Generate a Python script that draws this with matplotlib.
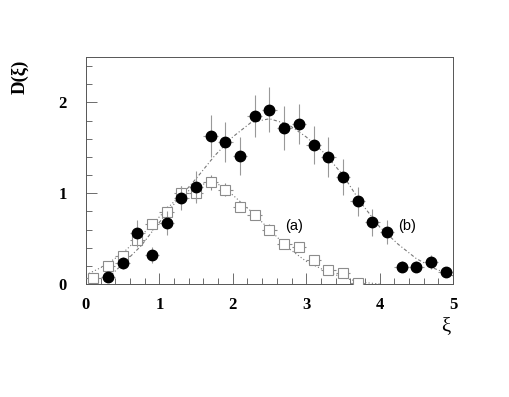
import matplotlib
matplotlib.use("Agg")
import matplotlib.pyplot as plt
from matplotlib.ticker import MultipleLocator

# (b) filled circles
bx = [0.3, 0.5, 0.7, 0.9, 1.1, 1.3, 1.5, 1.7, 1.9, 2.1, 2.3, 2.5,
      2.7, 2.9, 3.1, 3.3, 3.5, 3.7, 3.9, 4.1, 4.3, 4.5, 4.7, 4.9]
by = [0.08, 0.23, 0.56, 0.32, 0.67, 0.95, 1.07, 1.63, 1.56, 1.41, 1.85, 1.92,
      1.72, 1.76, 1.53, 1.40, 1.18, 0.91, 0.68, 0.57, 0.19, 0.19, 0.245, 0.13]
be = [0.04, 0.07, 0.15, 0.09, 0.13, 0.13, 0.18, 0.23, 0.22, 0.21, 0.23, 0.25,
      0.24, 0.22, 0.21, 0.22, 0.20, 0.16, 0.15, 0.13, 0.06, 0.06, 0.08, 0.05]

# (a) open squares
ax_ = [0.1, 0.3, 0.5, 0.7, 0.9, 1.1, 1.3, 1.5, 1.7, 1.9, 2.1, 2.3,
       2.5, 2.7, 2.9, 3.1, 3.3, 3.5, 3.7]
ay = [0.07, 0.20, 0.31, 0.49, 0.66, 0.79, 1.00, 1.00, 1.12, 1.04, 0.85, 0.76,
      0.60, 0.44, 0.41, 0.26, 0.15, 0.12, 0.01]
ae = [0.03, 0.04, 0.05, 0.06, 0.06, 0.07, 0.08, 0.08, 0.08, 0.07, 0.06, 0.06,
      0.06, 0.05, 0.05, 0.04, 0.04, 0.03, 0.02]

# fit curves
fa_x = [0.0, 0.25, 0.5, 0.75, 1.0, 1.25, 1.5, 1.75, 2.0, 2.25, 2.5, 2.75,
        3.0, 3.25, 3.5, 3.75, 4.0]
fa_y = [0.10, 0.20, 0.34, 0.53, 0.74, 0.95, 1.08, 1.13, 0.98, 0.80, 0.60, 0.40,
        0.25, 0.15, 0.07, 0.02, 0.0]
fb_x = [0.25, 0.5, 0.75, 1.0, 1.25, 1.5, 1.75, 2.0, 2.25, 2.5, 2.75, 3.0,
        3.25, 3.5, 3.75, 4.0, 4.25, 4.5, 4.75, 5.0]
fb_y = [0.03, 0.22, 0.42, 0.68, 0.93, 1.16, 1.41, 1.62, 1.78, 1.82, 1.76, 1.62,
        1.44, 1.20, 0.89, 0.63, 0.44, 0.28, 0.17, 0.09]

xticks = [0, 1, 2, 3, 4, 5]
yticks = [0, 1, 2]

fig = plt.figure(figsize=(5.10, 3.97), dpi=100)
ax = fig.add_axes([0.1686, 0.2846, 0.7196, 0.5718])

grey = "#8c8c8c"
ax.plot(fa_x, fa_y, linestyle=(0, (1, 2)), color="#777777", lw=0.8, zorder=2)
ax.plot(fb_x, fb_y, linestyle=(0, (3, 2, 1, 2)), color="#777777", lw=0.8, zorder=2)

ax.errorbar(ax_, ay, yerr=ae, xerr=0.1, fmt="s", ms=6.5, mfc="white",
            mec=grey, mew=0.8, ecolor=grey, elinewidth=0.8, capsize=0,
            zorder=3)
ax.errorbar(bx, by, yerr=be, xerr=0.1, fmt="o", ms=7.5, mfc="black",
            mec="black", ecolor="#999999", elinewidth=0.8, capsize=0,
            zorder=4)

ax.set_xlim(0, 5)
ax.set_ylim(0, 2.5)
ax.set_xticks(xticks)
ax.set_yticks(yticks)
ax.xaxis.set_minor_locator(MultipleLocator(0.2))
ax.yaxis.set_minor_locator(MultipleLocator(0.2))
ax.tick_params(which="both", direction="in", top=False, right=False,
               color="#555555", width=0.6)
ax.tick_params(which="major", length=8)
ax.tick_params(which="minor", length=4)
ax.tick_params(axis="x", which="major", pad=9)
ax.tick_params(axis="y", which="major", pad=14)
for lab in ax.get_xticklabels() + ax.get_yticklabels():
    lab.set_fontfamily("Liberation Serif")
    lab.set_fontweight("bold")
    lab.set_fontsize(12)
for sp in ax.spines.values():
    sp.set_color("#555555")
    sp.set_linewidth(0.7)

ax.text(2.83, 0.64, "(a)", family="Liberation Sans", fontsize=10.5,
        ha="center", va="center")
ax.text(4.37, 0.64, "(b)", family="Liberation Sans", fontsize=10.5,
        ha="center", va="center")

fig.text(20 / 510, 1 - 77 / 397, "D(ξ)", rotation=90, family="Liberation Serif",
         fontweight="bold", fontsize=13.5, ha="center", va="center")
fig.text(446 / 510, 1 - 327 / 397, "ξ", family="Liberation Serif",
         fontsize=15, ha="center", va="center")

fig.savefig("out.png", dpi=100)
